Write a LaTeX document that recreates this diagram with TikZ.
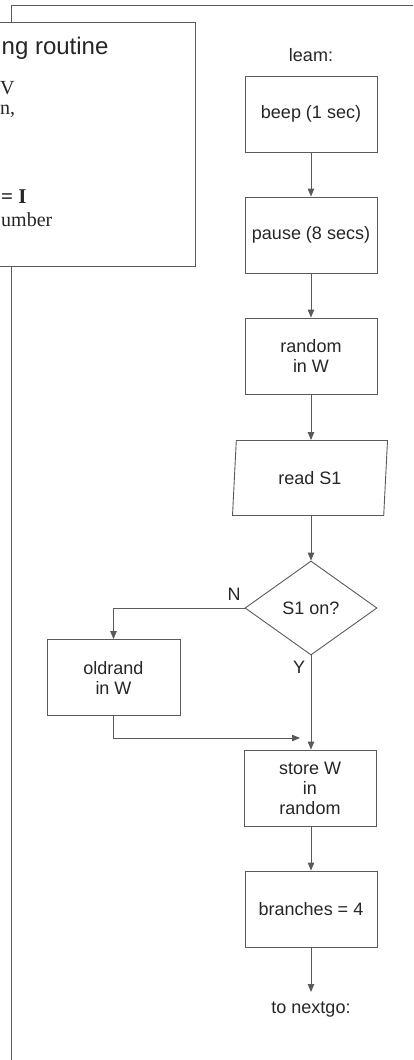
\documentclass[tikz,border=0pt]{standalone}
\usepackage{fontspec}
\setmainfont{Liberation Sans}
\newfontfamily\capserif{Liberation Serif}
\usepackage{tikz}
\usetikzlibrary{arrows.meta,positioning,shapes.geometric}
\definecolor{lninkgray}{HTML}{5A5A5A}
\definecolor{txtgray}{HTML}{262626}

\begin{document}
\begin{tikzpicture}[x=1pt,y=-1pt,
  font=\fontsize{18}{20}\selectfont, text=txtgray,
  box/.style={rectangle,draw=lninkgray,line width=0.9pt,align=center,inner sep=2pt,minimum width=132,minimum height=76},
  io/.style={trapezium,trapezium left angle=74,trapezium right angle=106,trapezium stretches body,draw=lninkgray,line width=0.9pt,inner sep=0pt,minimum width=155,minimum height=75},
  dec/.style={diamond,aspect=1.4,draw=lninkgray,line width=0.9pt,inner sep=0pt,minimum width=132,minimum height=94},
  captxt/.style={anchor=base west,inner sep=0pt,font=\capserif\fontsize{20}{22}\selectfont},
  ar/.style={-{Triangle[length=8pt,width=6.5pt]},draw=lninkgray,line width=0.9pt}]
  \useasboundingbox (0,0) rectangle (413,1060);
  % page frame and caption box
  \draw[lninkgray,line width=0.9pt] (413,5) -- (11,5) -- (11,1060);
  \filldraw[draw=lninkgray,fill=white,line width=0.9pt] (-2,22) rectangle (195,266);
  \node[anchor=east,font=\fontsize{24}{26}\selectfont] (cap) at (112,48) {ng routine};
  \node[captxt] (capa) at (0,94) {V};
  \node[captxt] (capb) at (0,114) {n,};
  \node[captxt,font=\capserif\bfseries\fontsize{21}{22}\selectfont] (capc) at (1,203) {= I};
  \node[captxt] (capd) at (1,226) {umber};
  % flow chart
  \node (learn) at (311,55) {leam:};
  \node[box] (beep) at (311,114) {beep (1 sec)};
  \node[box] (pause) at (311,235) {pause (8 secs)};
  \node[box] (rnd) at (311,356) {random\\ in W};
  \node[io] (rds) at (310,478) {read S1};
  \node[dec] (son) at (311,608) {S1 on?};
  \node[box,minimum width=133] (old) at (113.5,677.5) {oldrand\\ in W};
  \node[box] (store) at (310,788) {store W\\ in\\ random};
  \node[box] (br) at (311,909) {branches = 4};
  \coordinate (mrg) at (300,738);
  \coordinate (nxt) at (311,992);
  \node (nxtlbl) at (311,1010) {to nextgo:};
  \node (nlbl) at (234,594) {N};
  \node (ylbl) at (299,667) {Y};
  \draw[ar] (beep) -- (pause);
  \draw[ar] (pause) -- (rnd);
  \draw[ar] (rnd) -- (rnd.south |- rds.north);
  \draw[ar] (rds.south -| son.north) -- (son);
  \draw[ar] (son.west) -| (old.north);
  \draw[ar] (son.south) -- (son.south |- store.north);
  \draw[ar] (old.south) |- (mrg);
  \draw[ar] (store.south -| br.north) -- (br);
  \draw[ar] (br) -- (nxt);
\end{tikzpicture}
\end{document}
